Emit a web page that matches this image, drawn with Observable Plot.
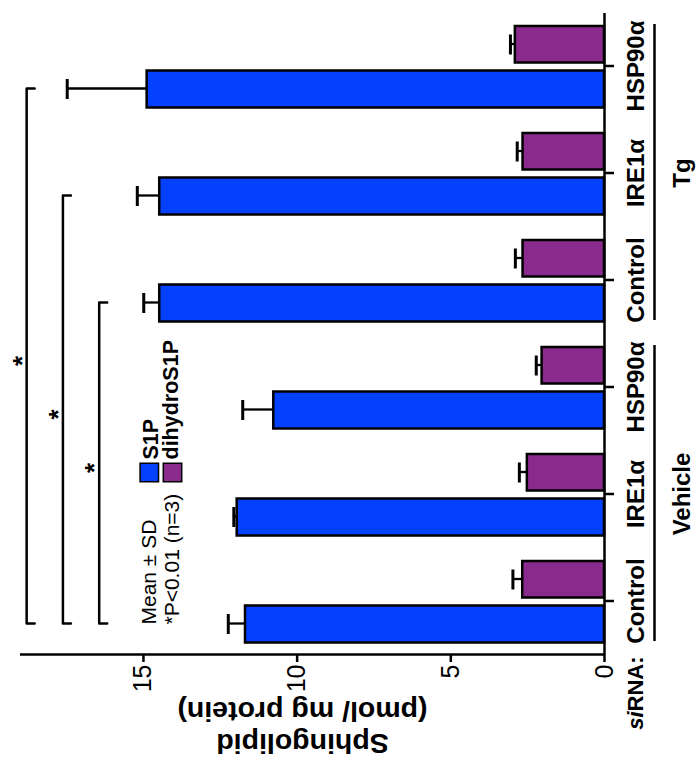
<!DOCTYPE html>
<html><head><meta charset="utf-8">
<script src="https://cdn.jsdelivr.net/npm/d3@7"></script>
<script src="https://cdn.jsdelivr.net/npm/@observablehq/plot@0.6"></script>
<style>
html,body{margin:0;padding:0;background:#fff;overflow:hidden;}
#wrap{position:relative;width:697px;height:759px;overflow:hidden;background:#fff;}
#wrap svg{position:absolute !important;left:0;top:0;max-width:none !important;width:759px !important;height:697px !important;transform-origin:0 0;transform:translate(0,759px) rotate(-90deg);}
</style></head><body><div id="wrap"></div>
<script>
// ---- data ----
const treatments = ["Vehicle","Vehicle","Vehicle","Tg","Tg","Tg"];
const sirnas = ["Control","IRE1α","HSP90α","Control","IRE1α","HSP90α"];
const s1pMean = [11.68, 11.95, 10.76, 14.47, 14.47, 14.88];
const s1pSD   = [0.56, 0.11, 1.01, 0.52, 0.73, 2.60];
const dhMean  = [2.66, 2.51, 2.03, 2.65, 2.65, 2.90];
const dhSD    = [0.32, 0.26, 0.19, 0.25, 0.19, 0.16];
const seriesNames = ["S1P","dihydroS1P"];
const seriesColors = ["#0341fc","#8b2a8d"];
const valueTicks = [0,5,10,15];
const yDomain = [0,19];
const yTitle = ["Sphingolipid","(pmol/ mg protein)"];
const legendNotes = ["Mean ± SD","*P<0.01 (n=3)"];
const compFrom = [0,0,0];
const compTo = [3,4,5];
const compLevel = [16.44,17.62,18.80];
const sigMark = "*";
const groupPrefix = ["si","RNA:"];

// ---- layout ----
const W = 759, H = 697, mL = 104, mR = 13, mT = 20, mB = 93;
const keys = treatments.map((t,i)=>t+"|"+sirnas[i]);
const step = (W-mL-mR)/keys.length;
const s1pDx = -22.5, dhDx = 22;
const rows = keys.map((k,i)=>({key:k, s1p:s1pMean[i], s1pTop:s1pMean[i]+s1pSD[i], dh:dhMean[i], dhTop:dhMean[i]+dhSD[i]}));
const tickLen = 8*(yDomain[1]-yDomain[0])/(H-mT-mB);
const brackets = [];
compFrom.forEach((f,j)=>{
  const t = compTo[j], lv = compLevel[j];
  brackets.push({id:j,key:keys[f],y:lv-tickLen},{id:j,key:keys[f],y:lv},{id:j,key:keys[t],y:lv},{id:j,key:keys[t],y:lv-tickLen});
});
const groupNames = [...new Set(treatments)];
const groupSpans = groupNames.map(g=>{
  const idx = keys.map((k,i)=>i).filter(i=>treatments[i]===g);
  return {name:g, first:keys[idx[0]], last:keys[idx[idx.length-1]], mid:keys[idx[Math.floor(idx.length/2)]]};
});
const font = "'Liberation Sans', Arial, sans-serif";
const stars = compFrom.map((f,j)=>Plot.text([sigMark], {
  x: ()=>keys[f], y: ()=>compLevel[j], text: d=>d,
  dx: s1pDx + (compTo[j]-f)/2*step - 5, dy: 4, lineAnchor:"bottom",
  fontSize: 26, fontWeight:"bold"
}));

const plot = Plot.plot({
  width: W, height: H,
  marginLeft: mL, marginRight: mR, marginTop: mT, marginBottom: mB,
  style: {fontFamily: font, background: "white", color: "black", overflow: "visible"},
  x: {type:"band", domain: keys, padding: 0},
  y: {domain: yDomain},
  marks: [
    // error bars
    Plot.ruleX(rows, {x:"key", y1:"s1p", y2:"s1pTop", dx:s1pDx, strokeWidth:2.3}),
    Plot.tickY(rows, {x:"key", y:"s1pTop", insetLeft:21, insetRight:66, strokeWidth:3}),
    Plot.ruleX(rows, {x:"key", y1:"dh", y2:"dhTop", dx:dhDx, strokeWidth:2.3}),
    Plot.tickY(rows, {x:"key", y:"dhTop", insetLeft:65.5, insetRight:21.5, strokeWidth:3}),
    // bars
    Plot.barY(rows, {x:"key", y:"s1p", fill:seriesColors[0], stroke:"black", strokeWidth:2.5, insetLeft:12.5, insetRight:57.5}),
    Plot.barY(rows, {x:"key", y:"dh", fill:seriesColors[1], stroke:"black", strokeWidth:2.5, insetLeft:57.5, insetRight:13}),
    // axes
    Plot.ruleY([0], {strokeWidth:2.5}),
    Plot.ruleX([keys[0]], {x:d=>d, y1:()=>yDomain[0], y2:()=>yDomain[1], dx:-step/2, strokeWidth:2.5}),
    Plot.axisY(valueTicks, {tickSize:7, tickPadding:3, fontSize:25, label:null, strokeWidth:2.5}),
    Plot.axisX({tickSize:10, tickPadding:12, fontSize:24, fontWeight:"bold", label:null, strokeWidth:2.5, tickFormat:k=>k.split("|")[1]}),
    Plot.text([groupPrefix[1]], {frameAnchor:"bottom-left", textAnchor:"end", lineAnchor:"top", dx:-2, dy:23, fontSize:22, fontWeight:"bold"}),
    Plot.text([groupPrefix[0]], {frameAnchor:"bottom-left", textAnchor:"end", lineAnchor:"top", dx:-57, dy:23, fontSize:22, fontWeight:"bold", fontStyle:"italic"}),
    // treatment groups
    Plot.ruleY(groupSpans, {x1:"first", x2:"last", y:()=>0, dy:50, insetLeft:14, insetRight:11, strokeWidth:2.5}),
    Plot.text(groupSpans, {x:"mid", y:()=>0, text:"name", dy:68, lineAnchor:"top", fontSize:24, fontWeight:"bold"}),
    // y title
    Plot.text([yTitle.join("\n")], {frameAnchor:"left", rotate:-90, dx:-74, dy:-10, fontSize:28.5, fontWeight:"bold", lineHeight:1.12, lineAnchor:"middle", textAnchor:"middle"}),
    // brackets
    Plot.line(brackets, {x:"key", y:"y", z:"id", dx:s1pDx, stroke:"black", strokeWidth:2.5}),
    ...stars,
    // legend
    Plot.text([legendNotes.join("\n")], {frameAnchor:"top-left", dx:30, dy:158, textAnchor:"start", lineAnchor:"bottom", lineHeight:1.095, fontSize:21}),
    Plot.dot([0], {frameAnchor:"top-left", dx:182, dy:128.8, symbol:"square", r:10.4, fill:seriesColors[0], stroke:"black", strokeWidth:1.5}),
    Plot.dot([1], {frameAnchor:"top-left", dx:182, dy:152, symbol:"square", r:10.4, fill:seriesColors[1], stroke:"black", strokeWidth:1.5}),
    Plot.text([seriesNames[0]], {frameAnchor:"top-left", dx:195, dy:137, textAnchor:"start", lineAnchor:"bottom", fontSize:21.5, fontWeight:"bold"}),
    Plot.text([seriesNames[1]], {frameAnchor:"top-left", dx:195, dy:157, textAnchor:"start", lineAnchor:"bottom", fontSize:21.5, fontWeight:"bold"})
  ]
});
document.getElementById("wrap").appendChild(plot);
</script></body></html>
